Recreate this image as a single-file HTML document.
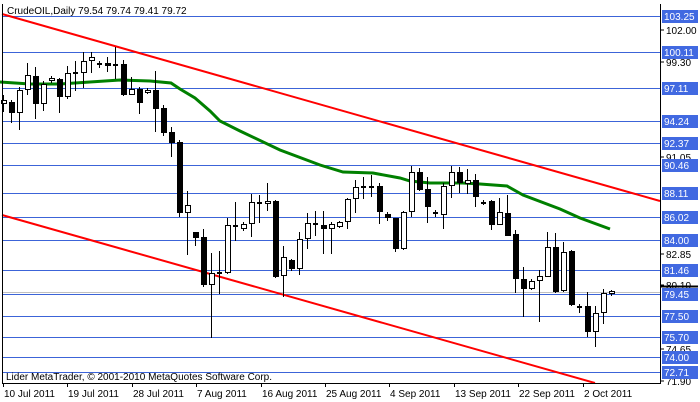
<!DOCTYPE html>
<html><head><meta charset="utf-8"><style>
html,body{margin:0;padding:0;background:#fff;width:700px;height:402px;overflow:hidden}
svg{display:block;font-family:"Liberation Sans",sans-serif}
</style></head><body>
<svg id="s" width="700" height="402" xmlns="http://www.w3.org/2000/svg">
<rect width="700" height="402" fill="#fff"/>
<g id="grid" stroke="#3c64d8" stroke-width="1"></g>
<line x1="2" y1="292.5" x2="660" y2="292.5" stroke="#c0c0c0"/>
<polyline fill="none" stroke="#008000" stroke-width="3" points="0,82 30,84 60,84 120,80 150,81 171,83 180,89 195,98 210,111 220,121 240,131 280,150 320,165 343,172 373,173 400,178 410,181 430,183 463,183 480,184 507,186 523,195 560,209 580,218 610,229"/>
<line x1="2" y1="14" x2="660" y2="201" stroke="#ff0000" stroke-width="2"/>
<line x1="2" y1="215" x2="595" y2="383" stroke="#ff0000" stroke-width="2"/>
<g id="c"></g>
<line x1="2.5" y1="4" x2="2.5" y2="383" stroke="#000"/>
<line x1="660.5" y1="4" x2="660.5" y2="383.5" stroke="#000"/>
<line x1="2" y1="383.5" x2="661" y2="383.5" stroke="#000"/>
<g id="lab" font-size="10"></g>
<text x="7" y="14" font-size="10" fill="#000">CrudeOIL,Daily  79.54 79.74 79.41 79.72</text>
<text x="6" y="380" font-size="10" fill="#000">Lider MetaTrader, © 2001-2010 MetaQuotes Software Corp.</text>
<g id="dates" font-size="10"></g>
</svg>
<script>
var NS="http://www.w3.org/2000/svg";
function el(p,t,a,txt){var e=document.createElementNS(NS,t);for(var k in a)e.setAttribute(k,a[k]);if(txt)e.textContent=txt;document.getElementById(p).appendChild(e);return e;}
var blue=[[16,"103.25"],[52,"100.11"],[88,"97.11"],[121,"94.24"],[143,"92.37"],[165,"90.46"],[193,"88.11"],[217,"86.02"],[240,"84.00"],[270,"81.46"],[294,"79.45"],[316,"77.50"],[337,"75.70"],[357,"74.00"],[372,"72.71"]];
var blk=[[30,"102.00"],[62,"99.30"],[157,"91.05"],[254,"82.85"],[285,"80.10"],[349,"74.65"],[381,"71.90"]];
blue.forEach(function(b){el("grid","line",{x1:2,y1:b[0]+.5,x2:660,y2:b[0]+.5});});
blk.forEach(function(b){el("lab","line",{x1:660,y1:b[0],x2:664,y2:b[0],stroke:"#000"});el("lab","text",{x:666,y:b[0]+4,fill:"#000"},b[1]);});
el("lab","line",{x1:660,y1:286.5,x2:698,y2:286.5,stroke:"#000","stroke-width":2});
blue.forEach(function(b){el("lab","rect",{x:662,y:b[0]-6,width:36,height:13,fill:"#4169e1"});el("lab","text",{x:664,y:b[0]+4,fill:"#fff"},b[1]);});
var d=[[100,104,95,112,0],[102,113,100,123,1],[90,113,87,130,0],[75,90,63,95,0],[76,104,67,119,1],[84,104,81,111,0],[78,81,76,83,0],[79,97,78,113,1],[73,97,66,99,0],[72,74,61,91,1],[61,73,52,88,0],[57,61,52,73,0],[63,65,61,68,1],[63,66,57,72,1],[64,65,47,79,1],[64,95,60,96,1],[89,95,77,95,0],[89,103,87,114,1],[90,93,88,94,0],[90,109,71,132,1],[108,133,105,136,1],[132,143,127,157,1],[142,213,140,217,1],[205,213,191,255,0],[232,238,232,246,1],[237,285,229,287,1],[273,285,253,338,0],[272,274,251,294,1],[225,273,218,274,0],[225,226,202,241,1],[224,229,222,231,0],[202,224,194,237,0],[202,204,195,223,1],[201,204,183,211,0],[201,277,200,278,1],[257,276,246,297,0],[260,269,259,271,1],[239,269,232,275,0],[223,239,213,249,0],[223,225,211,236,1],[225,229,211,254,1],[224,229,222,254,0],[222,227,221,228,0],[199,222,198,229,0],[187,199,180,213,0],[186,187,177,199,1],[186,187,175,197,1],[186,212,183,224,1],[214,218,212,221,1],[218,249,218,252,1],[212,249,211,250,0],[172,212,166,217,0],[172,190,168,191,1],[189,207,177,223,1],[212,214,210,217,1],[186,215,183,229,0],[172,186,166,198,0],[172,183,167,193,1],[180,184,169,194,0],[180,197,174,207,1],[202,203,200,205,1],[201,225,200,230,1],[212,225,198,225,0],[213,236,195,236,1],[234,279,230,293,1],[279,289,267,317,1],[281,289,279,290,0],[276,281,270,322,0],[247,277,232,277,0],[247,292,233,293,1],[252,291,242,292,0],[251,305,250,306,1],[306,307,304,313,1],[306,332,292,337,1],[313,332,306,347,0],[293,313,289,324,0],[291,294,290,296,0]];
d.forEach(function(c,i){var x=3+8*i;
el("c","line",{x1:x+.5,y1:c[2],x2:x+.5,y2:c[3],stroke:"#000"});
var h=c[1]-c[0];
if(h<=2){el("c","rect",{x:x-2,y:c[0],width:5,height:2,fill:"#000"});}
else if(c[4])el("c","rect",{x:x-2,y:c[0],width:6,height:h,fill:"#000"});
else el("c","rect",{x:x-1.5,y:c[0]+.5,width:5,height:h-1,fill:"#fff",stroke:"#000"});});
var dt=["10 Jul 2011","19 Jul 2011","28 Jul 2011","7 Aug 2011","16 Aug 2011","25 Aug 2011","4 Sep 2011","13 Sep 2011","22 Sep 2011","2 Oct 2011"];
dt.forEach(function(t,k){var x=Math.round(3+64.4*k);el("dates","line",{x1:x+.5,y1:383,x2:x+.5,y2:387,stroke:"#000"});el("dates","text",{x:x+1,y:397,fill:"#000"},t);});
</script>
</body></html>
